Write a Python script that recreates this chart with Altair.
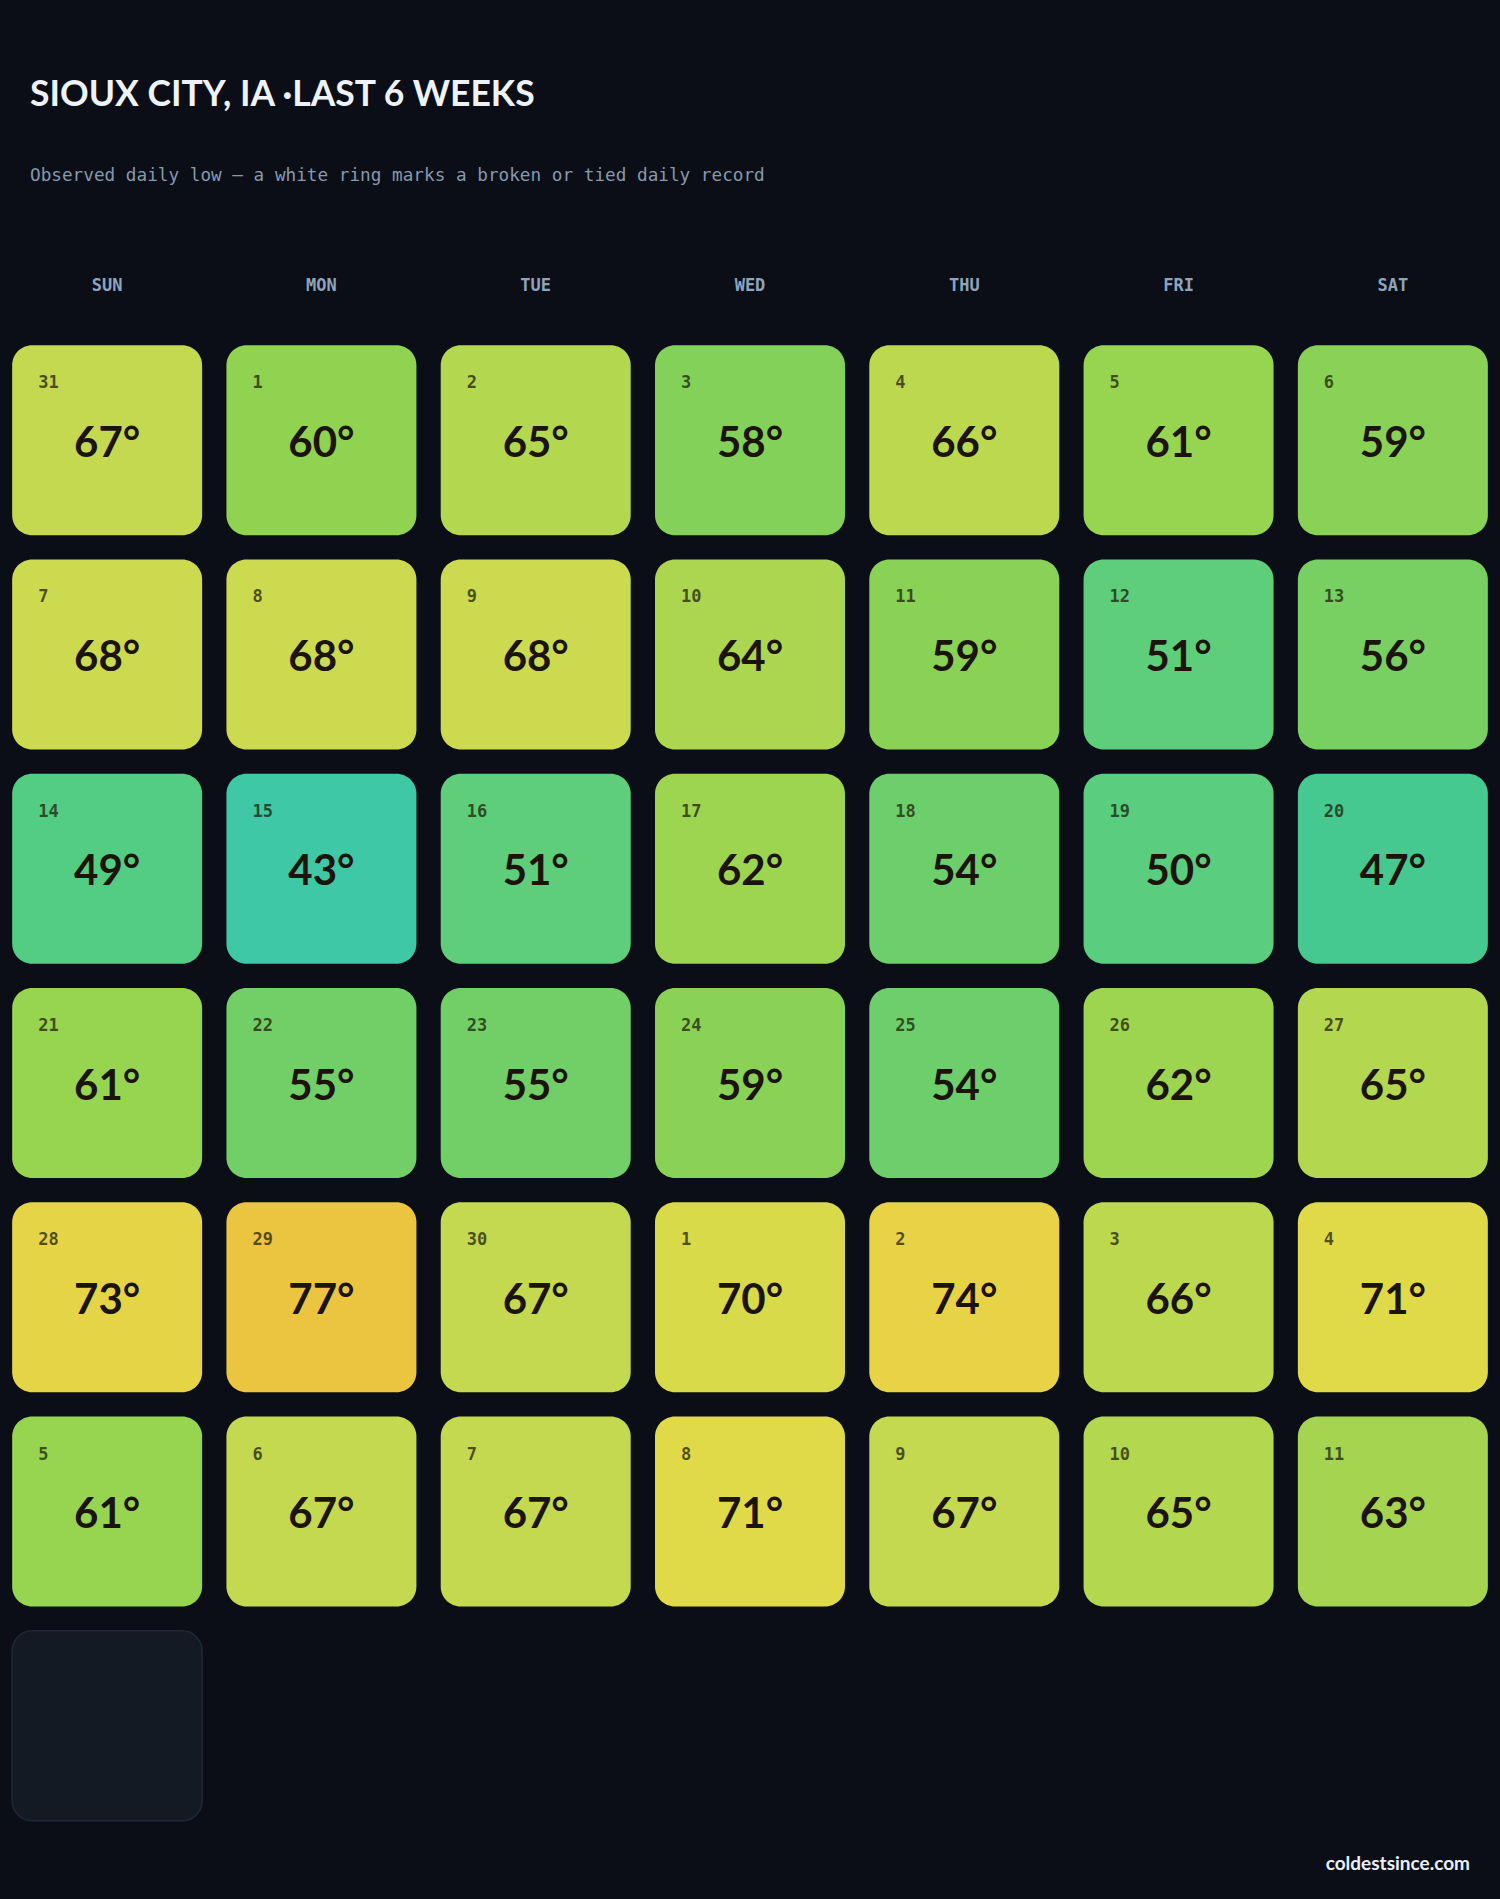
import altair as alt
import pandas as pd

# ---- data ----
title_text = "SIOUX CITY, IA ·LAST 6 WEEKS"
subtitle_text = "Observed daily low — a white ring marks a broken or tied daily record"
footer_text = "coldestsince.com"
weekdays = ["SUN", "MON", "TUE", "WED", "THU", "FRI", "SAT"]

week_rows = [0, 1, 2, 3, 4, 5]
day_numbers = [
    [31, 1, 2, 3, 4, 5, 6],
    [7, 8, 9, 10, 11, 12, 13],
    [14, 15, 16, 17, 18, 19, 20],
    [21, 22, 23, 24, 25, 26, 27],
    [28, 29, 30, 1, 2, 3, 4],
    [5, 6, 7, 8, 9, 10, 11],
]
lows = [
    [67, 60, 65, 58, 66, 61, 59],
    [68, 68, 68, 64, 59, 51, 56],
    [49, 43, 51, 62, 54, 50, 47],
    [61, 55, 55, 59, 54, 62, 65],
    [73, 77, 67, 70, 74, 66, 71],
    [61, 67, 67, 71, 67, 65, 63],
]
# one trailing day with no observation yet
empty_week = [6]
empty_dow = ["SUN"]

# colour stops for the temperature scale
temp_stops = [43, 47, 50, 54, 56, 60, 64, 68, 71, 74, 77]
color_stops = ["#3ec8a6", "#46c990", "#5acd7e", "#6ccf6c", "#78cf62", "#8fd350",
               "#acd650", "#ccda50", "#e0da48", "#e8d346", "#ecc540"]

# ---- tables ----
rows = []
for w, dn_row, t_row in zip(week_rows, day_numbers, lows):
    for d, dn, t in zip(weekdays, dn_row, t_row):
        rows.append({"dow": d, "week": w, "day": str(dn), "low": t, "label": f"{t}°"})
df = pd.DataFrame(rows)
df_empty = pd.DataFrame({"dow": empty_dow, "week": empty_week})
df_head = pd.DataFrame({"dow": weekdays})
df_one = pd.DataFrame({"k": [0]})

W, H = 1500, 1500
pad_in, pad_out = 0.1134, 0.0567
xscale = alt.Scale(domain=weekdays, paddingInner=pad_in, paddingOuter=pad_out)
yscale = alt.Scale(domain=list(range(7)), paddingInner=pad_in, paddingOuter=pad_out)
X = alt.X("dow:O", scale=xscale, axis=None)
Y = alt.Y("week:O", scale=yscale, axis=None)

cells = alt.Chart(df).mark_rect(cornerRadius=20).encode(
    x=X, y=Y,
    color=alt.Color("low:Q", scale=alt.Scale(domain=temp_stops, range=color_stops), legend=None),
)

empty = alt.Chart(df_empty).mark_rect(
    cornerRadius=20, fill="#131a24", stroke="#1e2937", strokeWidth=1.5
).encode(x=X, y=Y)

daynum = alt.Chart(df).mark_text(
    align="left", baseline="alphabetic", dx=-69, dy=-52,
    font="DejaVu Sans Mono", fontWeight="bold", fontSize=17,
    color="#1c1a08", opacity=0.72,
).encode(x=X, y=Y, text="day:N")

temps = alt.Chart(df).mark_text(
    align="center", baseline="alphabetic", dy=16.5,
    font="Lato", fontWeight=700, fontSize=42, color="#1c140c",
).encode(x=X, y=Y, text="label:N")

headers = alt.Chart(df_head).mark_text(
    align="center", baseline="middle",
    font="DejaVu Sans Mono", fontWeight="bold", fontSize=17, color="#8fa3bd",
).encode(x=X, y=alt.value(-47), text="dow:N")

title = alt.Chart(df_one).mark_text(
    align="left", baseline="alphabetic",
    font="Lato", fontWeight=700, fontSize=35.5, color="#eef3fa",
).encode(x=alt.value(30), y=alt.value(-227), text=alt.value(title_text))

subtitle = alt.Chart(df_one).mark_text(
    align="left", baseline="alphabetic",
    font="DejaVu Sans Mono", fontSize=17.7, color="#8699ae",
).encode(x=alt.value(30), y=alt.value(-152), text=alt.value(subtitle_text))

footer = alt.Chart(df_one).mark_text(
    align="right", baseline="middle",
    font="Lato", fontWeight=700, fontSize=19, color="#eaf0f6",
).encode(x=alt.value(1470), y=alt.value(1531), text=alt.value(footer_text))

chart = alt.layer(
    cells, empty, daynum, temps, headers, title, subtitle, footer
).properties(
    width=W, height=H,
    autosize=alt.AutoSizeParams(type="none"),
    padding={"top": 333, "left": 0, "right": 0, "bottom": 66},
    background="#0b0e16",
).configure_view(stroke=None)

chart.save("out.html", embed_options={"renderer": "svg", "actions": False})
